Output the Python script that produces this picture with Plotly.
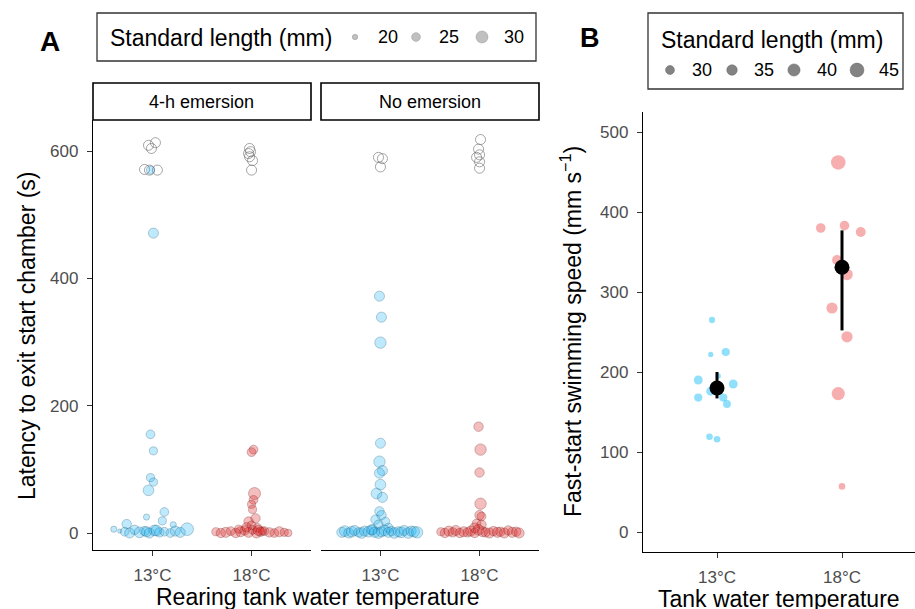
import plotly.graph_objects as go

W, H = 915, 609

# ---------------- DATA ----------------
temp_labels = ["13°C", "18°C"]
facet_labels = ["4-h emersion", "No emersion"]
a_y_ticks = [0, 200, 400, 600]
b_y_ticks = [0, 100, 200, 300, 400, 500]
a_legend_sl = [20, 25, 30]
b_legend_sl = [30, 35, 40, 45]

# Panel A: latency (s), horizontal jitter (category units), standard length (mm)
# 4-h emersion, 13°C
e_13_lat = [471, 570, 155, 129, 87, 80, 67, 33, 25, 19, 13, 14, 6, 3, 2, 0, 5, 1, 3, 0, 4, 1, 2, 0, 3, 1, 6, 2, 4]
e_13_jit = [0.01, -0.02, -0.02, 0.01, -0.02, 0.01, -0.04, 0.12, -0.06, 0.10, 0.21, -0.26, -0.39, -0.33, -0.28,
            -0.23, -0.18, -0.13, -0.08, -0.03, 0.02, 0.07, 0.12, 0.18, 0.23, 0.28, 0.35, -0.06, 0.04]
e_13_sl = [27, 24, 25, 24, 24, 24, 28, 25, 21, 24, 21, 26, 21, 18, 25, 27, 26, 28, 26, 27, 28, 26, 25, 25, 27,
           27, 31, 27, 28]
# 4-h emersion, 18°C
e_18_lat = [131, 127, 62, 52, 45, 37, 23, 18, 12, 8, 2, 0, 1, 3, 0, 2, 4, 1, 5, 0, 2, 3, 1, 0, 2, 1, 0, 6, 3, 9, 4]
e_18_jit = [0.02, 0.00, 0.03, 0.02, 0.00, 0.01, 0.04, -0.03, 0.0, 0.06, -0.36, -0.31, -0.26, -0.21, -0.16,
            -0.11, -0.07, -0.03, 0.01, 0.05, 0.09, 0.13, 0.18, 0.23, 0.28, 0.33, 0.37, -0.13, 0.11, -0.05, 0.07]
e_18_sl = [25, 25, 30, 25, 24, 24, 26, 26, 25, 25, 24, 26, 27, 25, 26, 27, 26, 27, 25, 27, 26, 25, 26, 25, 27,
           24, 23, 24, 24, 26, 27]
# No emersion, 13°C
n_13_lat = [372, 339, 299, 141, 112, 98, 94, 76, 62, 56, 34, 28, 21, 18, 13, 8, 5,
            1, 3, 0, 2, 4, 1, 0, 3, 2, 5, 1, 0, 2, 4, 1, 3, 0, 2, 1, 4, 0, 3, 2, 1]
n_13_jit = [-0.01, 0.01, 0.0, 0.0, -0.01, 0.02, -0.01, 0.0, -0.04, 0.02, -0.01, 0.01, -0.05, 0.05, -0.02, 0.08,
            -0.08,
            -0.39, -0.36, -0.32, -0.29, -0.26, -0.22, -0.19, -0.16, -0.12, -0.09, -0.06, -0.02, 0.01, 0.04, 0.08,
            0.11, 0.14, 0.18, 0.21, 0.24, 0.28, 0.31, 0.34, 0.37]
n_13_sl = [27, 27, 29, 27, 29, 27, 27, 28, 28, 27, 26, 26, 26, 25, 26, 26, 27,
           27, 28, 27, 28, 27, 26, 28, 27, 28, 27, 27, 28, 27, 28, 27, 26, 28, 27, 28, 27, 28, 27, 28, 29]
# No emersion, 18°C
n_18_lat = [167, 131, 95, 46, 28, 26, 15, 13, 8,
            2, 0, 3, 1, 4, 0, 2, 1, 3, 0, 5, 2, 1, 0, 3, 1, 2, 0, 4, 1, 2, 0]
n_18_jit = [-0.01, 0.01, 0.0, 0.01, 0.0, 0.02, -0.03, 0.02, -0.05,
            -0.39, -0.35, -0.31, -0.27, -0.24, -0.20, -0.16, -0.12, -0.09, -0.05, -0.01, 0.03, 0.06, 0.10, 0.14,
            0.18, 0.21, 0.25, 0.29, 0.33, 0.37, 0.40]
n_18_sl = [26, 29, 26, 29, 26, 25, 25, 26, 27,
           24, 26, 27, 26, 27, 26, 27, 26, 27, 26, 28, 27, 26, 27, 26, 27, 26, 27, 26, 27, 26, 27]

# Censored trials (did not exit, plotted as open circles near 600 s)
ce_13_lat = [613, 609, 604, 571, 570, 570]
ce_13_jit = [0.03, -0.04, -0.01, -0.08, -0.03, 0.05]
ce_18_lat = [604, 599, 596, 591, 585, 570]
ce_18_jit = [-0.02, -0.01, -0.03, -0.02, 0.01, 0.0]
cn_13_lat = [590, 588, 575]
cn_13_jit = [-0.02, 0.02, 0.0]
cn_18_lat = [618, 603, 594, 590, 583, 573]
cn_18_jit = [0.01, -0.01, 0.0, -0.03, 0.0, 0.0]
cens_sl = 27

# Panel B: fast-start speed (mm/s), jitter, standard length (mm)
b_13_speed = [265, 222, 225, 190, 185, 195, 176, 168, 168, 160, 119, 116]
b_13_jit = [-0.04, -0.05, 0.07, -0.15, 0.13, 0.01, -0.05, -0.15, 0.05, 0.08, -0.06, 0.0]
b_13_sl = [22, 19, 28, 30, 30, 19, 30, 28, 28, 27, 23, 23]
b_18_speed = [462, 380, 383, 375, 340, 322, 280, 244, 173, 57]
b_18_jit = [-0.03, -0.17, 0.02, 0.15, -0.04, 0.04, -0.08, 0.04, -0.03, 0.0]
b_18_sl = [47, 32, 32, 33, 33, 38, 37, 37, 43, 23]
b_mean = [180, 331]
b_low = [167, 252]
b_high = [200, 377]

# ---------------- STYLE ----------------
FONT = "Liberation Sans, Arial, sans-serif"
TICK_COL = "#4D4D4D"
A_BLUE = ("rgba(30,180,245,0.40)", "rgba(25,90,120,0.55)")
A_RED = ("rgba(222,25,25,0.40)", "rgba(110,20,20,0.55)")
B_BLUE = "rgba(0,184,245,0.62)"
B_RED = "rgba(235,45,45,0.55)"


def a_diam(sl):
    return 0.65 * sl - 7.5


def b_diam(sl):
    return 0.33 * sl - 1


def px_x(p):
    return p / W


def px_y(p):
    return 1 - p / H


fig = go.Figure()


def add_a(xax, yax, cat, lat, jit, sl, cols):
    fig.add_trace(go.Scatter(
        x=[cat + j for j in jit], y=lat, mode="markers", xaxis=xax, yaxis=yax,
        marker=dict(size=[a_diam(s) for s in sl], sizemode="diameter", color=cols[0],
                    line=dict(color=cols[1], width=0.8)),
        showlegend=False, hoverinfo="skip"))


def add_cens(xax, yax, cat, lat, jit):
    fig.add_trace(go.Scatter(
        x=[cat + j for j in jit], y=lat, mode="markers", xaxis=xax, yaxis=yax,
        marker=dict(size=a_diam(cens_sl), color="rgba(0,0,0,0)",
                    line=dict(color="rgba(105,105,105,0.75)", width=0.8)),
        showlegend=False, hoverinfo="skip"))


add_cens("x", "y", 1, ce_13_lat, ce_13_jit)
add_cens("x", "y", 2, ce_18_lat, ce_18_jit)
add_cens("x2", "y2", 1, cn_13_lat, cn_13_jit)
add_cens("x2", "y2", 2, cn_18_lat, cn_18_jit)
add_a("x", "y", 1, e_13_lat, e_13_jit, e_13_sl, A_BLUE)
add_a("x", "y", 2, e_18_lat, e_18_jit, e_18_sl, A_RED)
add_a("x2", "y2", 1, n_13_lat, n_13_jit, n_13_sl, A_BLUE)
add_a("x2", "y2", 2, n_18_lat, n_18_jit, n_18_sl, A_RED)

# Panel B
fig.add_trace(go.Scatter(x=[1 + j for j in b_13_jit], y=b_13_speed, mode="markers", xaxis="x3", yaxis="y3",
                         marker=dict(size=[b_diam(s) for s in b_13_sl], color=B_BLUE, line=dict(width=0)),
                         showlegend=False, hoverinfo="skip"))
fig.add_trace(go.Scatter(x=[2 + j for j in b_18_jit], y=b_18_speed, mode="markers", xaxis="x3", yaxis="y3",
                         marker=dict(size=[b_diam(s) for s in b_18_sl], color=B_RED, line=dict(width=0)),
                         showlegend=False, hoverinfo="skip"))
fig.add_trace(go.Scatter(x=[1, 2], y=b_mean, mode="markers", xaxis="x3", yaxis="y3",
                         marker=dict(size=15, color="black"),
                         error_y=dict(type="data", symmetric=False,
                                      array=[h - m for h, m in zip(b_high, b_mean)],
                                      arrayminus=[m - l for m, l in zip(b_mean, b_low)],
                                      color="black", thickness=3, width=0),
                         showlegend=False, hoverinfo="skip"))

tickfont = dict(family=FONT, size=17, color=TICK_COL)
common_x = dict(tickmode="array", tickvals=[1, 2], ticktext=temp_labels, showline=True, linecolor="black",
                linewidth=1.3, ticks="outside", ticklen=5, tickwidth=1.1, tickcolor="#333333",
                tickfont=tickfont, showgrid=False, zeroline=False, ticklabelstandoff=4)

A_YDOM = [px_y(550), px_y(120)]
B_YDOM = [px_y(552), px_y(112)]
A_YR = [-26.7, 648.7]

fig.update_layout(
    width=W, height=H, margin=dict(l=0, r=0, t=0, b=0), autosize=False,
    paper_bgcolor="white", plot_bgcolor="rgba(0,0,0,0)",
    font=dict(family=FONT, color="black"),
    xaxis=dict(domain=[px_x(93), px_x(311)], range=[0.4, 2.6], anchor="y", **common_x),
    xaxis2=dict(domain=[px_x(321), px_x(539)], range=[0.4, 2.6], anchor="y2", **common_x),
    xaxis3=dict(domain=[px_x(643), 1.0], range=[0.408, 2.584], anchor="y3", **common_x),
    yaxis=dict(domain=A_YDOM, range=A_YR, tickmode="array", tickvals=a_y_ticks, showline=True,
               linecolor="black", linewidth=1.3, ticks="outside", ticklen=5, tickwidth=1.1,
               tickcolor="#333333", tickfont=tickfont, showgrid=False, zeroline=False, anchor="x",
               ticklabelstandoff=5),
    yaxis2=dict(domain=A_YDOM, range=A_YR, showline=False, showticklabels=False, ticks="",
                showgrid=False, zeroline=False, anchor="x2"),
    yaxis3=dict(domain=B_YDOM, range=[-25, 525], tickmode="array", tickvals=b_y_ticks, showline=True,
                linecolor="black", linewidth=1.3, ticks="outside", ticklen=5, tickwidth=1.1,
                tickcolor="#333333", tickfont=tickfont, showgrid=False, zeroline=False, anchor="x3",
                ticklabelstandoff=5),
)

shapes = []
annotations = []


def ann(text, x, y, size, xanchor="center", yanchor="middle", textangle=0, bold=False, color="black"):
    annotations.append(dict(text=f"<b>{text}</b>" if bold else text, x=px_x(x), y=px_y(y), xref="paper",
                            yref="paper", showarrow=False, xanchor=xanchor, yanchor=yanchor,
                            textangle=textangle, font=dict(family=FONT, size=size, color=color)))


def rect(x0, y0, x1, y1, lw=1.4, color="black"):
    shapes.append(dict(type="rect", xref="paper", yref="paper", x0=px_x(x0), x1=px_x(x1), y0=px_y(y1),
                       y1=px_y(y0), line=dict(color=color, width=lw), fillcolor="rgba(0,0,0,0)"))


def circ(cx, cy, d, fill, line):
    shapes.append(dict(type="circle", xref="paper", yref="paper", x0=px_x(cx - d / 2), x1=px_x(cx + d / 2),
                       y0=px_y(cy + d / 2), y1=px_y(cy - d / 2), line=dict(color=line, width=0.6),
                       fillcolor=fill))


# Panel letters
ann("A", 50, 41, 28, bold=True)
ann("B", 590, 38, 27, bold=True)

# Strips
rect(93, 83, 311, 120, lw=1.6)
rect(321, 83, 539, 120, lw=1.6)
ann(facet_labels[0], 201, 102, 18)
ann(facet_labels[1], 430, 102, 18)

# Axis titles
ann("Latency to exit start chamber (s)", 27, 336, 23, textangle=-90)
ann("Rearing tank water temperature", 317, 597, 23)
ann("Fast-start swimming speed (mm s<sup>−1</sup>)", 571, 332, 23, textangle=-90)
ann("Tank water temperature", 779, 599, 23)

# Legend A
rect(97, 13, 536, 61, lw=1.3, color="#333333")
ann("Standard length (mm)", 108, 38, 23, xanchor="left")
for sl, cx, tx in zip(a_legend_sl, [355, 416, 482], [376, 437, 502]):
    circ(cx, 37, a_diam(sl), "rgba(150,150,150,0.6)", "rgba(120,120,120,0.6)")
    ann(str(sl), tx, 37, 18, xanchor="left")

# Legend B
rect(648, 13, 903, 89, lw=1.3, color="#333333")
ann("Standard length (mm)", 659, 40, 23, xanchor="left")
for sl, cx, tx in zip(b_legend_sl, [670, 732, 794, 857], [690, 752, 815, 877]):
    circ(cx, 70, b_diam(sl), "rgba(90,90,90,0.75)", "rgba(90,90,90,0.75)")
    ann(str(sl), tx, 70, 18, xanchor="left")

fig.update_layout(shapes=shapes, annotations=annotations)

fig.write_html("out.html", config={"displayModeBar": False},
               post_script="document.body.style.margin='0';document.body.style.overflow='hidden';")
